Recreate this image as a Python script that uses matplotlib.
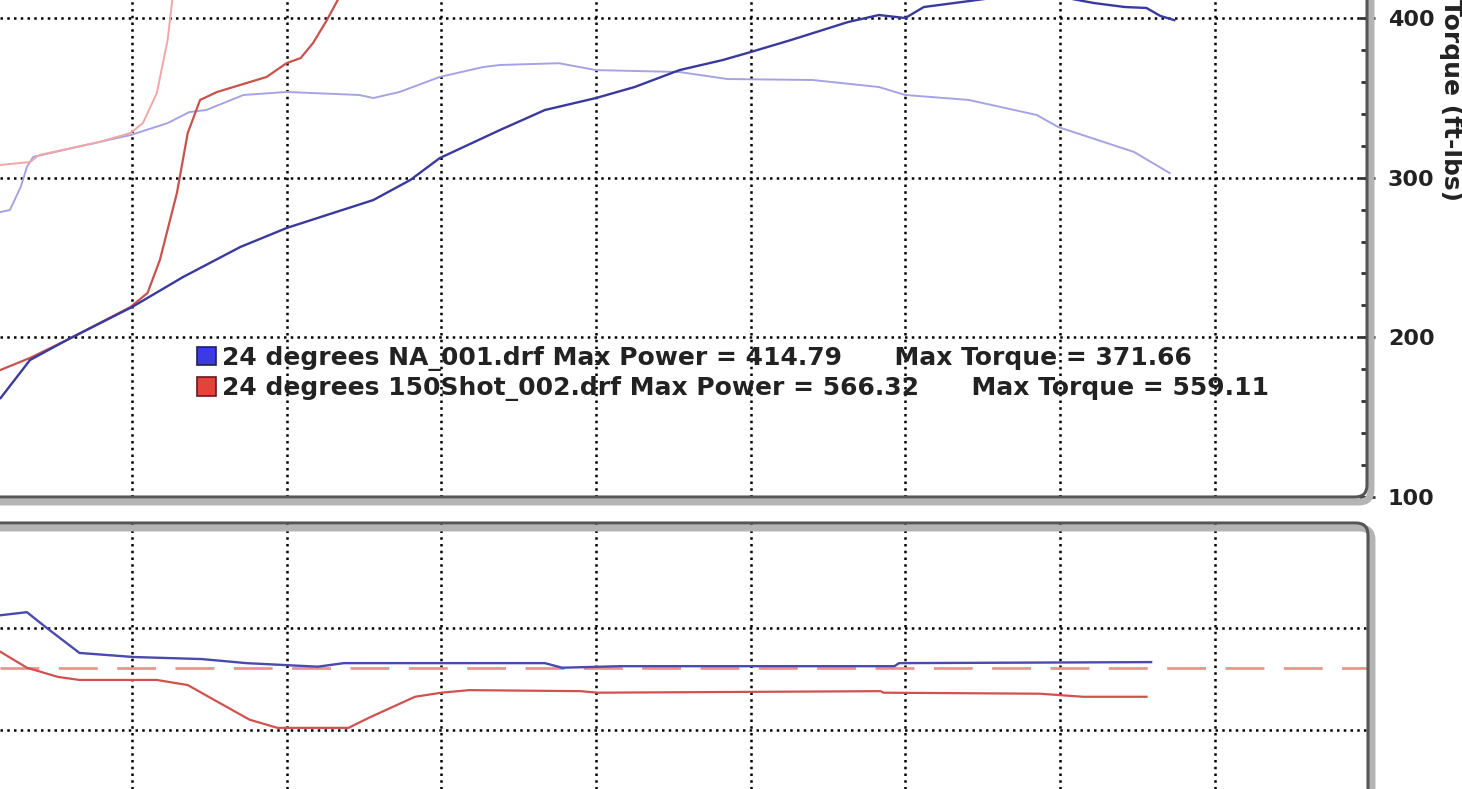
"""
Dyno chart: 24 degrees NA vs 150 shot, power / torque and lower AFR panel.
"""

import matplotlib
matplotlib.use("Agg")
import matplotlib.pyplot as plt
from matplotlib.patches import Patch, FancyBboxPatch
from matplotlib.transforms import IdentityTransform
from matplotlib.ticker import MultipleLocator

# --- data ---
# NA run, power
na_hp_rpm = [2075, 2170, 2290, 2500, 2665, 2850, 3000, 3150, 3280, 3400, 3495, 3690,
             3835, 4000, 4125, 4270, 4410, 4500, 4630, 4815, 4915, 5000, 5060, 5205,
             5305, 5405, 5505, 5610, 5710, 5780, 5825, 5870]
na_hp = [162.0, 185.8, 198.4, 219.0, 237.8, 256.6, 268.5, 277.9, 286.0, 298.6, 312.3, 329.9,
         342.4, 349.9, 356.8, 367.4, 373.7, 378.7, 386.2, 397.5, 401.9, 400.0, 406.9, 410.6,
         413.2, 414.8, 413.2, 409.4, 406.9, 406.3, 401.3, 398.7]

# NA run, torque
na_tq_rpm = [2075, 2105, 2140, 2160, 2180, 2395, 2495, 2615, 2685, 2740, 2860, 3000,
             3235, 3280, 3365, 3495, 3635, 3690, 3880, 4000, 4270, 4425, 4700, 4915,
             5000, 5205, 5425, 5495, 5740, 5855]
na_tq = [278.5, 279.8, 294.2, 306.7, 313.0, 322.4, 326.7, 334.2, 341.1, 342.4, 351.8, 353.7,
         351.8, 349.9, 353.7, 363.1, 369.3, 370.6, 371.7, 367.4, 366.2, 361.8, 361.2, 356.8,
         351.8, 348.7, 339.3, 331.7, 316.1, 302.9]

# 150 shot run, power
n2o_hp_rpm = [2075, 2170, 2290, 2495, 2550, 2590, 2645, 2680, 2720, 2775, 2935, 3000,
              3045, 3085, 3130, 3165, 3205]
n2o_hp = [179.6, 187.1, 198.4, 219.0, 227.8, 248.5, 290.4, 328.0, 348.7, 353.7, 363.1, 371.8,
          374.9, 384.3, 398.7, 411.3, 430.0]

# 150 shot run, torque
n2o_tq_rpm = [2075, 2170, 2200, 2395, 2495, 2535, 2580, 2615, 2630, 2650]
n2o_tq = [308.0, 309.8, 314.2, 322.4, 328.0, 334.2, 353.0, 386.2, 411.3, 430.0]

# lower panel (air/fuel)
na_afr_rpm = [2075, 2160, 2220, 2330, 2505, 2725, 2870, 3100, 3185, 3500, 3835, 3890,
              4080, 4335, 4965, 4980, 5795]
na_afr = [14.25, 14.31, 14.02, 13.51, 13.43, 13.39, 13.31, 13.24, 13.31, 13.31, 13.31, 13.22,
          13.25, 13.25, 13.25, 13.31, 13.33]
n2o_afr_rpm = [2075, 2160, 2260, 2330, 2580, 2680, 2765, 2880, 2970, 3200, 3270, 3415,
               3500, 3590, 3950, 4005, 4920, 4930, 5435, 5575, 5780]
n2o_afr = [13.53, 13.22, 13.04, 12.98, 12.98, 12.88, 12.59, 12.20, 12.04, 12.04, 12.25, 12.65,
           12.73, 12.78, 12.76, 12.73, 12.76, 12.73, 12.71, 12.65, 12.65]
afr_target = 13.22

run_names = ["24 degrees NA_001.drf", "24 degrees 150Shot_002.drf"]
max_power = [414.79, 566.32]
max_torque = [371.66, 559.11]

rpm_grid = [2500, 3000, 3500, 4000, 4500, 5000, 5500, 6000]

# --- figure ---
W, H = 1462, 789
fig = plt.figure(figsize=(W / 100, H / 100), dpi=100)

x_lim = (2073, 6493)
grid_style = dict(color="black", linestyle=(0, (1, 1.7)), linewidth=1.8)

ax1 = fig.add_axes([0, 1 - 497 / H, 1367 / W, 497 / H])
ax2 = fig.add_axes([0, 0, 1367 / W, 266 / H])

# upper panel
ax1.plot(na_tq_rpm, na_tq, color="#a4a4e4", lw=1.4, zorder=3)
ax1.plot(n2o_tq_rpm, n2o_tq, color="#f2a6a6", lw=1.4, zorder=3)
ax1.plot(n2o_hp_rpm, n2o_hp, color="#c8524c", lw=1.6, zorder=4)
ax1.plot(na_hp_rpm, na_hp, color="#3a3a9e", lw=1.7, zorder=5)

ax1.set_xlim(x_lim)
ax1.set_ylim(100, 411.3)
ax1.set_xticks(rpm_grid)
ax1.set_yticks([100, 200, 300, 400])
ax1.yaxis.set_minor_locator(MultipleLocator(20))
ax1.yaxis.tick_right()
ax1.tick_params(axis="x", length=0, labelbottom=False)
ax1.tick_params(axis="y", which="major", direction="inout", length=12, width=2,
                color="#333333", pad=9, labelsize=16, labelcolor="#222222")
ax1.tick_params(axis="y", which="minor", direction="inout", length=9, width=2,
                color="#333333")
for lab in ax1.get_yticklabels():
    lab.set_fontweight("bold")
ax1.grid(True, which="major", **grid_style)
for s in ax1.spines.values():
    s.set_visible(False)

fig.text(1451 / W, 1 - 100 / H, "Torque (ft-lbs)", rotation=270, ha="center", va="center",
         fontsize=18, fontweight="bold", color="#222222")

handles = [Patch(facecolor="#3a3ae6", edgecolor="#20205a", lw=1.2),
           Patch(facecolor="#e6423a", edgecolor="#5a2020", lw=1.2)]
labels = [f"{n} Max Power = {p:.2f}      Max Torque = {t:.2f}"
          for n, p, t in zip(run_names, max_power, max_torque)]
ax1.legend(handles, labels, loc="upper left", bbox_to_anchor=(0.144, 0.304),
           frameon=False, prop={"size": 18, "weight": "bold"}, labelcolor="#222222",
           handlelength=0.76, handleheight=0.76, handletextpad=0.24,
           labelspacing=0.22, borderpad=0, borderaxespad=0)

# lower panel
ax2.axhline(afr_target, color="#f29090", lw=2, linestyle=(0, (14, 7)), zorder=3)
ax2.plot(n2o_afr_rpm, n2o_afr, color="#d0524e", lw=1.6, zorder=4)
ax2.plot(na_afr_rpm, na_afr, color="#4a4aae", lw=1.7, zorder=5)
ax2.set_xlim(x_lim)
ax2.set_ylim(10.84, 16.06)
ax2.set_xticks(rpm_grid)
ax2.set_yticks([12, 14])
ax2.tick_params(length=0, labelbottom=False, labelleft=False)
ax2.grid(True, **grid_style)
for s in ax2.spines.values():
    s.set_visible(False)

# panel frames with a soft shadow and round corners
frames = [(-40, H - 497, 1367 + 40, 600), (-40, -40, 1368 + 40, 266 + 40)]
for x0, y0, w, h in frames:
    fig.add_artist(FancyBboxPatch((x0 + 4, y0 - 5), w, h,
                                  boxstyle="round,pad=0,rounding_size=12",
                                  transform=IdentityTransform(), facecolor="none",
                                  edgecolor="#b4b4b4", lw=5))
    fig.add_artist(FancyBboxPatch((x0, y0), w, h,
                                  boxstyle="round,pad=0,rounding_size=12",
                                  transform=IdentityTransform(), facecolor="none",
                                  edgecolor="#555555", lw=2.2))

fig.savefig("out.png", dpi=100)
